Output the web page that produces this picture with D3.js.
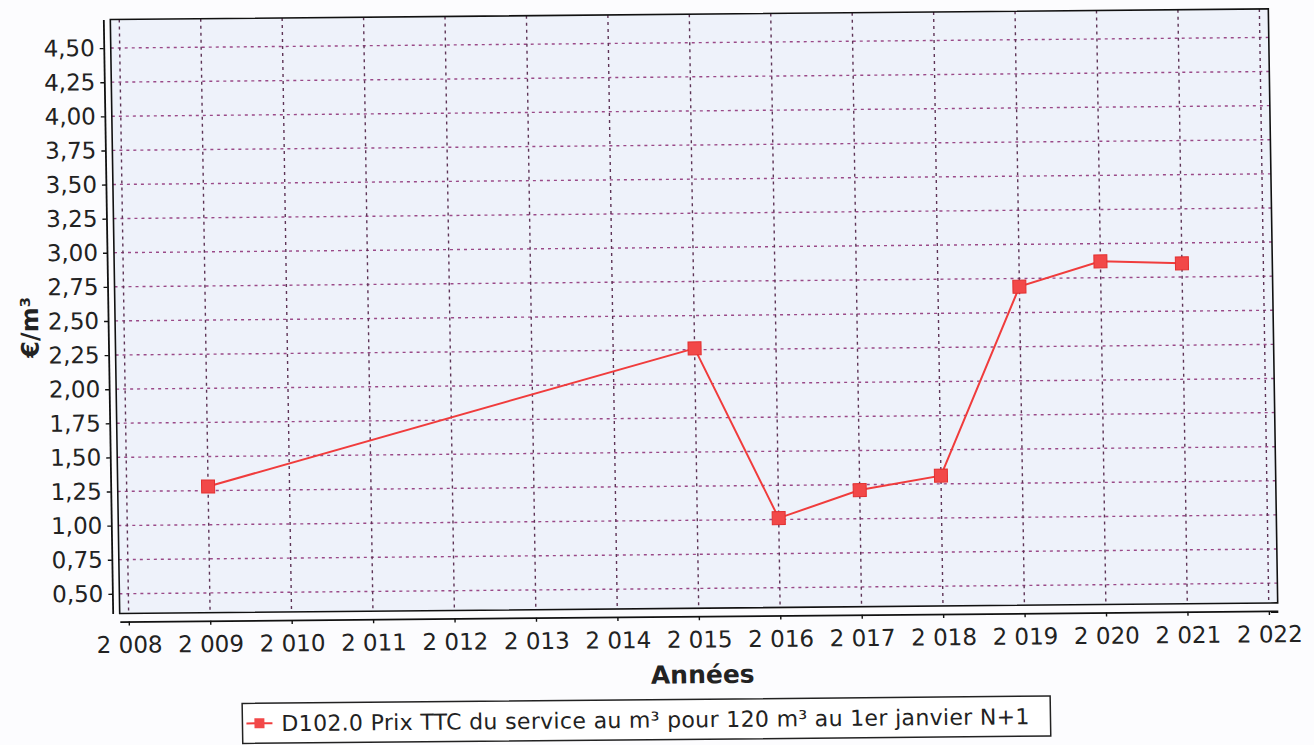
<!DOCTYPE html>
<html>
<head>
<meta charset="utf-8">
<script src="https://cdn.jsdelivr.net/npm/d3@7"></script>
<style>
  body { margin: 0; background: #fcfcfe; }
  svg { display: block; }
</style>
</head>
<body>
<svg id="chart" width="1314" height="745"></svg>
<script>
// values
const years = [2009, 2015, 2016, 2017, 2018, 2019, 2020, 2021];
const prices = [1.28, 2.26, 1.01, 1.21, 1.31, 2.69, 2.87, 2.85];

const xTickYears = [2008, 2009, 2010, 2011, 2012, 2013, 2014, 2015, 2016, 2017, 2018, 2019, 2020, 2021, 2022];
const yTickValues = [0.50, 0.75, 1.00, 1.25, 1.50, 1.75, 2.00, 2.25, 2.50, 2.75, 3.00, 3.25, 3.50, 3.75, 4.00, 4.25, 4.50];

const seriesLabel = "D102.0 Prix TTC du service au m³ pour 120 m³ au 1er janvier N+1";
const xTitle = "Années";
const yTitle = "€/m³";

const fr = d3.formatLocale({ decimal: ",", thousands: "\u00a0", grouping: [3], currency: ["", " €"] });
const fmtYear = fr.format(",d");
const fmtPrice = fr.format(",.2f");

const plot = { left: 115, right: 1273, top: 13, bottom: 607 };

const svg = d3.select("#chart");
// the source is a slightly crooked scan, so the whole chart is tilted a little
const root = svg.append("g")
    .attr("transform", "matrix(1,-0.0092,0.0158,1,-4.9,7.6)");

const x = d3.scaleLinear().domain([2007.89, 2022.11]).range([plot.left, plot.right]);
const y = d3.scaleLinear().domain([0.355, 4.709]).range([plot.bottom, plot.top]);

root.append("rect")
    .attr("x", plot.left)
    .attr("y", plot.top)
    .attr("width", plot.right - plot.left)
    .attr("height", plot.bottom - plot.top)
    .attr("fill", "#eef2fa");

// grid
root.append("g").selectAll("line")
    .data(yTickValues)
    .join("line")
    .attr("x1", plot.left)
    .attr("x2", plot.right)
    .attr("y1", d => y(d))
    .attr("y2", d => y(d))
    .attr("stroke", "#9a4a88")
    .attr("stroke-width", 1.4)
    .attr("stroke-dasharray", "3,4");

root.append("g").selectAll("line")
    .data(xTickYears)
    .join("line")
    .attr("x1", d => x(d))
    .attr("x2", d => x(d))
    .attr("y1", plot.top)
    .attr("y2", plot.bottom)
    .attr("stroke", "#5e3456")
    .attr("stroke-width", 1.4)
    .attr("stroke-dasharray", "3,4");

root.append("rect")
    .attr("x", plot.left)
    .attr("y", plot.top)
    .attr("width", plot.right - plot.left)
    .attr("height", plot.bottom - plot.top)
    .attr("fill", "none")
    .attr("stroke", "#111")
    .attr("stroke-width", 1.6);

// axes
const yAxis = root.append("g")
    .attr("transform", "translate(108,0)")
    .call(d3.axisLeft(y).tickValues(yTickValues).tickFormat(fmtPrice)
        .tickSize(4).tickSizeOuter(0).tickPadding(5));

const xAxis = root.append("g")
    .attr("transform", "translate(0,615)")
    .call(d3.axisBottom(x).tickValues(xTickYears).tickFormat(fmtYear)
        .tickSize(4).tickSizeOuter(0).tickPadding(11));

[yAxis, xAxis].forEach(a => {
    a.select(".domain").attr("stroke", "#111").attr("stroke-width", 1.8);
    a.selectAll(".tick line").attr("stroke", "#111").attr("stroke-width", 1.4);
    a.selectAll("text")
        .attr("fill", "#222")
        .style("font-family", "'DejaVu Sans', sans-serif")
        .style("font-size", "23px");
});

root.append("text")
    .attr("x", 697)
    .attr("y", 682)
    .attr("text-anchor", "middle")
    .style("font-family", "'DejaVu Sans', sans-serif")
    .style("font-size", "25px")
    .style("font-weight", "bold")
    .attr("fill", "#222")
    .text(xTitle);

root.append("text")
    .attr("transform", "translate(38,320) rotate(-90)")
    .attr("text-anchor", "middle")
    .style("font-family", "'DejaVu Sans', sans-serif")
    .style("font-size", "24px")
    .style("font-weight", "bold")
    .attr("fill", "#222")
    .text(yTitle);

// series
const points = years.map((yr, i) => ({ year: yr, price: prices[i] }));

root.append("path")
    .datum(points)
    .attr("fill", "none")
    .attr("stroke", "#f03c3c")
    .attr("stroke-width", 2)
    .attr("d", d3.line().x(d => x(d.year)).y(d => y(d.price)));

root.append("g").selectAll("rect")
    .data(points)
    .join("rect")
    .attr("x", d => x(d.year) - 6.5)
    .attr("y", d => y(d.price) - 6.5)
    .attr("width", 13)
    .attr("height", 13)
    .attr("fill", "#f24848")
    .attr("stroke", "#e23030")
    .attr("stroke-width", 1);

// legend
const legend = root.append("g");
legend.append("rect")
    .attr("x", 236)
    .attr("y", 698)
    .attr("width", 808)
    .attr("height", 40)
    .attr("fill", "#fff")
    .attr("stroke", "#222")
    .attr("stroke-width", 1.5);
legend.append("line")
    .attr("x1", 240)
    .attr("x2", 266)
    .attr("y1", 718)
    .attr("y2", 718)
    .attr("stroke", "#f03c3c")
    .attr("stroke-width", 2);
legend.append("rect")
    .attr("x", 248)
    .attr("y", 713)
    .attr("width", 10)
    .attr("height", 10)
    .attr("fill", "#f24848");
legend.append("text")
    .attr("x", 275)
    .attr("y", 726)
    .attr("textLength", 748)
    .style("font-family", "'DejaVu Sans', sans-serif")
    .style("font-size", "22px")
    .attr("fill", "#222")
    .text(seriesLabel);
</script>
</body>
</html>
